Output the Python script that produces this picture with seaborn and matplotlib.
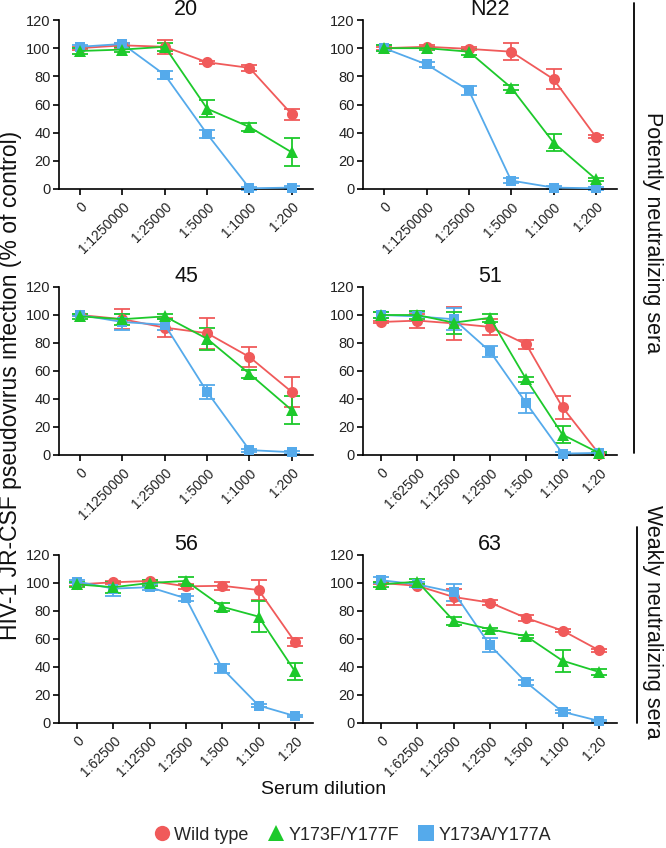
import numpy as np
import pandas as pd
import seaborn as sns
import matplotlib.pyplot as plt
from matplotlib.lines import Line2D

# -----------------------------------------------------------------
# Data (% of control, mean and error)
# -----------------------------------------------------------------
dil_a = ["0", "1:1250000", "1:25000", "1:5000", "1:1000", "1:200"]
dil_b = ["0", "1:62500", "1:12500", "1:2500", "1:500", "1:100", "1:20"]

variants = ["Wild type", "Y173F/Y177F", "Y173A/Y177A"]

s20_wt = [100, 102, 101, 90, 86, 53]
s20_wt_err = [1, 2, 5, 1, 2, 4]
s20_ff = [98, 99, 101, 57, 44, 26]
s20_ff_err = [2, 2, 3, 6, 3, 10]
s20_aa = [101, 103, 81, 39, 0.5, 1]
s20_aa_err = [1, 1, 3, 3, 1, 1]

n22_wt = [100, 101, 99.5, 97.5, 78, 37]
n22_wt_err = [1, 1, 1, 6, 7, 1]
n22_ff = [100, 100, 97.5, 72, 33, 7]
n22_ff_err = [2, 1, 2, 2, 6, 1]
n22_aa = [100, 88.5, 70, 6, 1, 0.5]
n22_aa_err = [2, 2, 3, 2, 1, 1]

s45_wt = [100, 97, 91, 87, 70, 45]
s45_wt_err = [1, 7, 7, 11, 7, 11]
s45_ff = [99, 97, 99, 83, 58, 32]
s45_ff_err = [2, 4, 2, 8, 3, 10]
s45_aa = [100, 95, 93, 45, 3.5, 2]
s45_aa_err = [1, 6, 4, 5, 1, 1]

s51_wt = [95, 96, 94, 91.5, 79, 34, 1]
s51_wt_err = [1, 5, 12, 6, 3, 8, 1]
s51_ff = [100, 100, 94.5, 98, 54, 14.5, 1.5]
s51_ff_err = [2, 3, 8, 3, 2, 6, 1]
s51_aa = [100, 99, 97, 74, 37, 1, 1.5]
s51_aa_err = [2, 3, 8, 4, 7, 1, 1]

s56_wt = [99, 100.5, 101.5, 97.6, 98, 95, 58]
s56_wt_err = [1, 1, 1, 2, 3, 7, 3]
s56_ff = [99, 97, 100, 101.5, 83, 76, 37]
s56_ff_err = [2, 4, 2, 3, 3, 11, 6]
s56_aa = [101, 96, 97, 89, 39, 12.5, 5]
s56_aa_err = [1, 5, 2, 2, 3, 1, 1]

s63_wt = [100, 98, 90, 86, 75, 66, 52]
s63_wt_err = [1, 1, 6, 2, 2, 1, 1]
s63_ff = [99, 101, 73, 67, 62, 44.5, 36.5]
s63_ff_err = [2, 2, 3, 1, 1, 8, 2]
s63_aa = [102, 99, 93.5, 55.5, 29, 8, 1.5]
s63_aa_err = [2, 2, 6, 5, 2, 1, 1]

panels = [
    ("20", dil_a, [s20_wt, s20_ff, s20_aa], [s20_wt_err, s20_ff_err, s20_aa_err]),
    ("N22", dil_a, [n22_wt, n22_ff, n22_aa], [n22_wt_err, n22_ff_err, n22_aa_err]),
    ("45", dil_a, [s45_wt, s45_ff, s45_aa], [s45_wt_err, s45_ff_err, s45_aa_err]),
    ("51", dil_b, [s51_wt, s51_ff, s51_aa], [s51_wt_err, s51_ff_err, s51_aa_err]),
    ("56", dil_b, [s56_wt, s56_ff, s56_aa], [s56_wt_err, s56_ff_err, s56_aa_err]),
    ("63", dil_b, [s63_wt, s63_ff, s63_aa], [s63_wt_err, s63_ff_err, s63_aa_err]),
]

palette = {"Wild type": "#F05A5A", "Y173F/Y177F": "#1DC92B", "Y173A/Y177A": "#55AAEB"}
markers = {"Wild type": "o", "Y173F/Y177F": "^", "Y173A/Y177A": "s"}
msizes = {"Wild type": 8.0, "Y173F/Y177F": 9.0, "Y173A/Y177A": 7.8}
draw_order = ["Wild type", "Y173A/Y177A", "Y173F/Y177F"]

sns.set_theme(style="ticks")
plt.rcParams["font.family"] = ["Liberation Sans", "DejaVu Sans"]

W, H = 666, 848
fig = plt.figure(figsize=(W / 100, H / 100), dpi=100)

# axes boxes in pixels: (left, right, top, bottom)
cols = [(59, 313), (363, 617)]
rows = [(20, 189), (287, 455), (555, 723)]

for i, (name, dils, vals, errs) in enumerate(panels):
    c = cols[i % 2]
    r = rows[i // 2]
    ax = fig.add_axes([c[0] / W, 1 - r[1] / H, (c[1] - c[0]) / W, (r[1] - r[0]) / H])

    rec = []
    for v, ys, es in zip(variants, vals, errs):
        for j, (y, e) in enumerate(zip(ys, es)):
            rec.append({"pos": j, "dilution": dils[j], "variant": v, "value": y, "err": e})
    df = pd.DataFrame(rec)

    for v in draw_order:
        sub = df[df["variant"] == v]
        ax.errorbar(sub["pos"], sub["value"], yerr=sub["err"], fmt="none",
                    ecolor=palette[v], elinewidth=1.3, capsize=6, capthick=1.3,
                    clip_on=False, zorder=2)
        sns.lineplot(data=sub, x="pos", y="value", color=palette[v],
                     marker=markers[v], markersize=msizes[v], markeredgewidth=0,
                     linewidth=1.3, ax=ax, legend=False, clip_on=False, zorder=3)

    ax.set_xlim(-0.5, len(dils) - 0.5)
    ax.set_ylim(0, 120)
    ax.set_yticks(np.arange(0, 121, 20))
    ax.set_xticks(range(len(dils)))
    ax.set_xticklabels(dils, rotation=45, ha="right", rotation_mode="anchor")
    ax.tick_params(axis="both", labelsize=10.5, length=4, width=1.2, color="black",
                   labelcolor="#222222", pad=2)
    ax.tick_params(axis="x", labelsize=10, pad=4)
    ax.set_xlabel("")
    ax.set_ylabel("")
    for sp in ["top", "right"]:
        ax.spines[sp].set_visible(False)
    for sp in ["left", "bottom"]:
        ax.spines[sp].set_color("black")
        ax.spines[sp].set_linewidth(1.2)
    ax.set_title(name, fontsize=15.5, pad=2, color="#111111")

# shared axis labels
fig.text(11 / W, 1 - 385 / H, "HIV-1 JR-CSF pseudovirus infection (% of control)",
         rotation=90, ha="center", va="center", fontsize=16.5, color="#111111")
fig.text(324 / W, 1 - 790 / H, "Serum dilution", ha="center", va="center",
         fontsize=14, color="#111111")

# group brackets on the right
fig.add_artist(Line2D([634 / W, 634 / W], [1 - 3 / H, 1 - 453 / H],
                      transform=fig.transFigure, color="black", linewidth=1.3))
fig.add_artist(Line2D([637 / W, 637 / W], [1 - 527 / H, 1 - 723 / H],
                      transform=fig.transFigure, color="black", linewidth=1.3))
fig.text(653 / W, 1 - 233 / H, "Potently neutralizing sera", rotation=-90,
         ha="center", va="center", fontsize=15.5, color="#111111")
fig.text(653 / W, 1 - 622 / H, "Weakly neutralizing sera", rotation=-90,
         ha="center", va="center", fontsize=15.5, color="#111111")

# legend
handles = [Line2D([], [], linestyle="none", marker=markers[v], color=palette[v],
                  markersize=11, markeredgewidth=0) for v in variants]
fig.legend(handles, variants, loc="center", ncol=3, frameon=False,
           bbox_to_anchor=(352 / W, 1 - 835 / H), fontsize=13,
           handletextpad=0.2, columnspacing=1.0, handlelength=1.0)

fig.savefig("out.png", dpi=100)
